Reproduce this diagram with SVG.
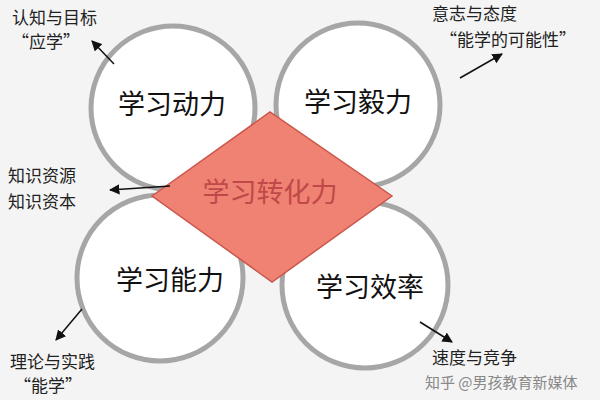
<svg xmlns="http://www.w3.org/2000/svg" width="600" height="400" viewBox="0 0 600 400">
<defs>
<style>
.c{fill:#fff;stroke:#a6a6a6;stroke-width:5}
.t{font-family:"Noto Sans CJK SC","Liberation Sans",sans-serif;font-size:27px;fill:#111;text-anchor:middle}
.l{font-family:"Noto Sans CJK SC","Liberation Sans",sans-serif;font-size:17px;fill:#222}
.a{stroke:#111;stroke-width:1.5;fill:none;marker-end:url(#ar)}
</style>
<marker id="ar" viewBox="0 0 10 10" refX="9" refY="5" markerWidth="7" markerHeight="7" orient="auto"><path d="M0,0L10,5L0,10z" fill="#111"/></marker>
</defs>
<rect width="600" height="400" fill="#f4f4f4"/>
<g id="n1"><circle class="c" cx="173" cy="108" r="82"/><text class="t" x="172" y="114">学习动力</text></g>
<g id="n2"><circle class="c" cx="358" cy="105" r="82"/><text class="t" x="358" y="112">学习毅力</text></g>
<g id="n3"><circle class="c" cx="160" cy="278" r="83"/><text class="t" x="170" y="290">学习能力</text></g>
<g id="n4"><circle class="c" cx="365" cy="285" r="83"/><text class="t" x="370" y="297">学习效率</text></g>
<g id="center"><polygon points="152,196 270,112 392,196 272,282" fill="#ef8273" stroke="#c9574b" stroke-width="1.5"/><text class="t" x="270" y="202" style="fill:#c04848">学习转化力</text></g>
<g id="labels">
<text class="l" x="12" y="24">认知与目标</text><text class="l" x="12" y="48">“应学”</text>
<text class="l" x="432" y="20">意志与态度</text><text class="l" x="440" y="46">“能学的可能性”</text>
<text class="l" x="8" y="182">知识资源</text><text class="l" x="8" y="208">知识资本</text>
<text class="l" x="10" y="368">理论与实践</text><text class="l" x="14" y="392">“能学”</text>
<text class="l" x="432" y="364">速度与竞争</text>
<text x="425" y="388" style="font-family:'Noto Sans CJK SC',sans-serif;font-size:15px;fill:#888">知乎 @男孩教育新媒体</text>
</g>
<g id="connectors">
<line class="a" x1="114" y1="64" x2="92" y2="41"/>
<line class="a" x1="460" y1="78" x2="502" y2="54"/>
<line class="a" x1="170" y1="186" x2="110" y2="190"/>
<line class="a" x1="82" y1="309" x2="56" y2="340"/>
<line class="a" x1="420" y1="322" x2="452" y2="342"/>
</g>
</svg>
